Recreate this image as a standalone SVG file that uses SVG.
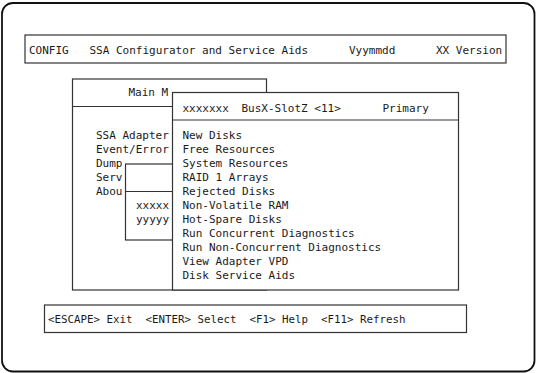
<svg xmlns="http://www.w3.org/2000/svg" width="537" height="373" viewBox="0 0 537 373">
<style>
.t{font-family:"DejaVu Sans Mono","Liberation Mono",monospace;font-size:11px;fill:#1a1a1a;}
.f{font-size:10.8px;}
.box{fill:#fff;stroke:#333;stroke-width:1.2;}
.ln{stroke:#333;stroke-width:1.2;fill:none;}
</style>
<rect width="537" height="373" fill="#fff"/>
<g id="frame"><rect x="2" y="3" width="532.5" height="368.5" rx="11" ry="11" fill="none" stroke="#111" stroke-width="1.8"/></g>
<g id="header">
<rect class="box" x="25" y="35" width="481" height="28"/>
<text class="t" x="29" y="53.5">CONFIG</text>
<text class="t" x="89.5" y="53.5">SSA Configurator and Service Aids</text>
<text class="t" x="349" y="53.5">Vyymmdd</text>
<text class="t" x="436" y="53.5">XX Version</text>
</g>
<g id="main-menu">
<rect class="box" x="72.5" y="79" width="194" height="211"/>
<line class="ln" x1="72.5" y1="106.5" x2="172" y2="106.5"/>
<text class="t" x="128.5" y="96">Main M</text>
<text class="t" x="96" y="138.5">SSA Adapter</text>
<text class="t" x="96" y="152.5">Event/Error</text>
<text class="t" x="96" y="166.5">Dump</text>
<text class="t" x="96" y="180.5">Serv</text>
<text class="t" x="96" y="194.5">Abou</text>
</g>
<g id="sub-box">
<rect class="box" x="125.5" y="164" width="80" height="76"/>
<line class="ln" x1="125.5" y1="191.5" x2="172" y2="191.5"/>
<text class="t" x="136" y="208.5">xxxxx</text>
<text class="t" x="136" y="222.5">yyyyy</text>
</g>
<g id="popup">
<rect class="box" x="172.5" y="92.5" width="286" height="197.5"/>
<line class="ln" x1="172.5" y1="120" x2="458.5" y2="120"/>
<text class="t" x="182.5" y="111.5">xxxxxxx</text>
<text class="t" x="241.5" y="111.5">BusX-SlotZ &lt;11&gt;</text>
<text class="t" x="382.5" y="111.5">Primary</text>
<text class="t" x="182.5" y="138.5">New Disks</text>
<text class="t" x="182.5" y="152.5">Free Resources</text>
<text class="t" x="182.5" y="166.5">System Resources</text>
<text class="t" x="182.5" y="180.5">RAID 1 Arrays</text>
<text class="t" x="182.5" y="194.5">Rejected Disks</text>
<text class="t" x="182.5" y="208.5">Non-Volatile RAM</text>
<text class="t" x="182.5" y="222.5">Hot-Spare Disks</text>
<text class="t" x="182.5" y="236.5">Run Concurrent Diagnostics</text>
<text class="t" x="182.5" y="250.5">Run Non-Concurrent Diagnostics</text>
<text class="t" x="182.5" y="264.5">View Adapter VPD</text>
<text class="t" x="182.5" y="278.5">Disk Service Aids</text>
</g>
<g id="footer">
<rect class="box" x="44.5" y="305" width="422" height="27.5"/>
<text class="t f" x="48" y="322.5" xml:space="preserve">&lt;ESCAPE&gt; Exit  &lt;ENTER&gt; Select  &lt;F1&gt; Help  &lt;F11&gt; Refresh</text>
</g>
</svg>
